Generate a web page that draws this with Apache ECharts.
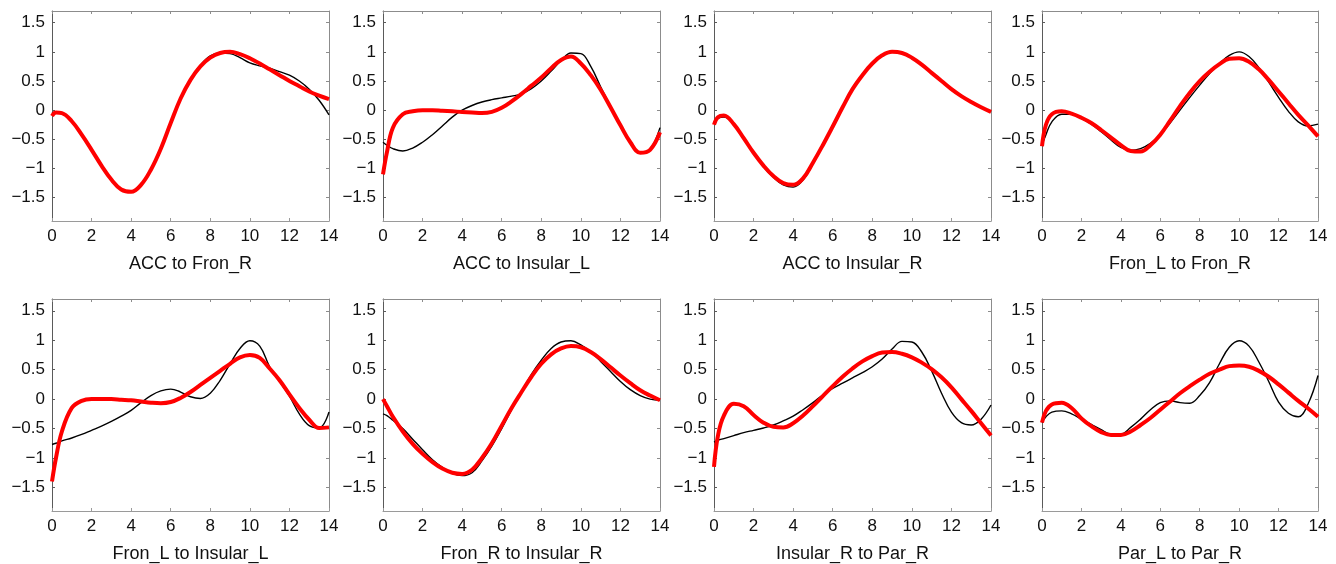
<!DOCTYPE html>
<html>
<head>
<meta charset="utf-8">
<style>
  html, body { margin: 0; padding: 0; background: #fff; }
  #chart { width: 1336px; height: 564px; }
</style>
<script src="https://cdn.jsdelivr.net/npm/echarts@6/dist/echarts.min.js"></script>
</head>
<body>
<div id="chart"></div>
<script>
// Time grid shared by all panels
const X = [0, 0.2, 0.5, 1, 1.5, 2, 2.5, 3, 3.5, 4, 4.5, 5, 5.5, 6, 6.5, 7, 7.5, 8, 8.5, 9, 9.5, 10, 10.5, 11, 11.5, 12, 12.5, 13, 13.5, 14];

const xTicks = [0, 2, 4, 6, 8, 10, 12, 14];
const yTicks = [-1.5, -1, -0.5, 0, 0.5, 1, 1.5];

// Observed (black) and fitted (red) curves, one pair per connection
const accFronR_obs = [-0.05, -0.03, -0.05, -0.19, -0.42, -0.68, -0.95, -1.19, -1.36, -1.40, -1.28, -1.02, -0.66, -0.22, 0.20, 0.53, 0.77, 0.93, 0.98, 0.97, 0.90, 0.81, 0.76, 0.72, 0.66, 0.60, 0.50, 0.36, 0.17, -0.08];
const accFronR_fit = [-0.10, -0.04, -0.05, -0.19, -0.42, -0.68, -0.95, -1.19, -1.36, -1.40, -1.28, -1.02, -0.66, -0.22, 0.20, 0.52, 0.75, 0.90, 0.98, 1.00, 0.96, 0.89, 0.80, 0.70, 0.60, 0.50, 0.41, 0.32, 0.25, 0.19];

const accInsL_obs = [-0.55, -0.60, -0.66, -0.70, -0.65, -0.55, -0.42, -0.27, -0.12, 0.00, 0.08, 0.14, 0.18, 0.21, 0.24, 0.28, 0.37, 0.50, 0.67, 0.85, 0.98, 0.97, 0.75, 0.40, 0.06, -0.25, -0.55, -0.73, -0.67, -0.30];
const accInsL_fit = [-1.10, -0.72, -0.30, -0.07, -0.02, 0.00, 0.00, -0.01, -0.02, -0.03, -0.04, -0.05, -0.03, 0.04, 0.15, 0.28, 0.42, 0.56, 0.72, 0.86, 0.92, 0.80, 0.60, 0.35, 0.05, -0.26, -0.55, -0.73, -0.68, -0.38];

const accInsR_obs = [-0.20, -0.14, -0.12, -0.24, -0.48, -0.74, -0.97, -1.15, -1.28, -1.32, -1.20, -0.92, -0.60, -0.28, 0.05, 0.36, 0.60, 0.80, 0.94, 1.00, 0.98, 0.90, 0.78, 0.64, 0.50, 0.36, 0.24, 0.14, 0.05, -0.03];
const accInsR_fit = [-0.25, -0.12, -0.09, -0.24, -0.48, -0.73, -0.95, -1.13, -1.25, -1.28, -1.17, -0.90, -0.60, -0.28, 0.05, 0.36, 0.60, 0.80, 0.94, 1.00, 0.98, 0.90, 0.78, 0.64, 0.50, 0.36, 0.24, 0.14, 0.05, -0.03];

const fronLFronR_obs = [-0.60, -0.42, -0.20, -0.07, -0.07, -0.14, -0.24, -0.37, -0.51, -0.64, -0.69, -0.66, -0.57, -0.42, -0.22, 0.00, 0.22, 0.43, 0.63, 0.80, 0.94, 1.00, 0.92, 0.73, 0.48, 0.22, -0.02, -0.20, -0.27, -0.24];
const fronLFronR_fit = [-0.62, -0.25, -0.07, -0.02, -0.06, -0.13, -0.22, -0.34, -0.47, -0.60, -0.70, -0.71, -0.60, -0.42, -0.18, 0.07, 0.30, 0.50, 0.66, 0.79, 0.88, 0.89, 0.83, 0.70, 0.52, 0.32, 0.12, -0.08, -0.26, -0.45];

const fronLInsL_obs = [-0.77, -0.75, -0.71, -0.66, -0.60, -0.53, -0.46, -0.38, -0.29, -0.19, -0.06, 0.06, 0.14, 0.17, 0.12, 0.04, 0.01, 0.10, 0.32, 0.60, 0.86, 0.99, 0.90, 0.55, 0.30, 0.05, -0.25, -0.45, -0.49, -0.22];
const fronLInsL_fit = [-1.40, -1.00, -0.55, -0.15, -0.03, 0.00, 0.00, 0.00, -0.01, -0.02, -0.04, -0.06, -0.07, -0.05, 0.02, 0.12, 0.24, 0.36, 0.48, 0.60, 0.71, 0.75, 0.70, 0.52, 0.32, 0.08, -0.15, -0.35, -0.49, -0.48];

const fronRInsR_obs = [-0.25, -0.28, -0.36, -0.50, -0.68, -0.86, -1.03, -1.16, -1.26, -1.30, -1.25, -1.05, -0.80, -0.50, -0.18, 0.12, 0.42, 0.66, 0.86, 0.97, 0.99, 0.92, 0.80, 0.64, 0.47, 0.30, 0.16, 0.06, 0.00, -0.02];
const fronRInsR_fit = [0.00, -0.12, -0.30, -0.55, -0.76, -0.93, -1.07, -1.18, -1.25, -1.27, -1.20, -1.00, -0.75, -0.45, -0.15, 0.12, 0.38, 0.60, 0.76, 0.86, 0.90, 0.88, 0.80, 0.68, 0.54, 0.40, 0.27, 0.15, 0.06, -0.02];

const insRParR_obs = [-0.73, -0.70, -0.67, -0.62, -0.57, -0.53, -0.49, -0.44, -0.37, -0.29, -0.18, -0.06, 0.07, 0.18, 0.27, 0.36, 0.45, 0.55, 0.68, 0.85, 0.98, 0.97, 0.80, 0.48, 0.10, -0.22, -0.40, -0.44, -0.34, -0.10];
const insRParR_fit = [-1.15, -0.62, -0.28, -0.08, -0.12, -0.27, -0.40, -0.47, -0.48, -0.41, -0.28, -0.12, 0.05, 0.22, 0.38, 0.52, 0.64, 0.73, 0.79, 0.80, 0.77, 0.71, 0.62, 0.51, 0.37, 0.20, 0.00, -0.20, -0.41, -0.62];

const parLParR_obs = [-0.40, -0.30, -0.22, -0.20, -0.25, -0.34, -0.43, -0.52, -0.59, -0.59, -0.48, -0.34, -0.18, -0.06, -0.03, -0.06, -0.07, 0.06, 0.28, 0.60, 0.88, 0.99, 0.90, 0.63, 0.30, -0.05, -0.24, -0.30, -0.08, 0.40];
const parLParR_fit = [-0.40, -0.20, -0.09, -0.06, -0.15, -0.33, -0.46, -0.56, -0.61, -0.61, -0.55, -0.44, -0.32, -0.18, -0.04, 0.10, 0.22, 0.33, 0.43, 0.50, 0.56, 0.57, 0.55, 0.48, 0.38, 0.25, 0.11, -0.03, -0.16, -0.30];

const panels = [
  { title: 'ACC to Fron_R', obs: accFronR_obs, fit: accFronR_fit },
  { title: 'ACC to Insular_L', obs: accInsL_obs, fit: accInsL_fit },
  { title: 'ACC to Insular_R', obs: accInsR_obs, fit: accInsR_fit },
  { title: 'Fron_L to Fron_R', obs: fronLFronR_obs, fit: fronLFronR_fit },
  { title: 'Fron_L to Insular_L', obs: fronLInsL_obs, fit: fronLInsL_fit },
  { title: 'Fron_R to Insular_R', obs: fronRInsR_obs, fit: fronRInsR_fit },
  { title: 'Insular_R to Par_R', obs: insRParR_obs, fit: insRParR_fit },
  { title: 'Par_L to Par_R', obs: parLParR_obs, fit: parLParR_fit }
];

// Panel frame layout
const colLeft = [52, 383, 714, 1042];
const colWidth = [277, 277, 277, 276];
const rowTop = [11, 299];
const rowHeight = [210, 212];

const FONT = 'Liberation Sans, Arial, Helvetica, sans-serif';
const minus = v => String(v).replace('-', '\u2212');

const grid = [], xAxis = [], yAxis = [], series = [];

panels.forEach((p, i) => {
  const c = i % 4, r = Math.floor(i / 4);
  grid.push({ left: colLeft[c], top: rowTop[r], width: colWidth[c], height: rowHeight[r] });

  const tickStyle = color => ({ show: true, inside: true, length: 3, lineStyle: { color: color, width: 1 } });

  // bottom axis with labels and panel title
  xAxis.push({
    gridIndex: i, type: 'value', min: 0, max: 14, interval: 2, position: 'bottom',
    name: p.title, nameLocation: 'middle', nameGap: 34,
    nameTextStyle: { fontFamily: FONT, fontSize: 18, color: '#111' },
    axisLine: { show: true, onZero: false, lineStyle: { color: '#9a9a9a', width: 1 } },
    axisTick: tickStyle('#9a9a9a'),
    axisLabel: { fontFamily: FONT, fontSize: 17, color: '#111', margin: 7,
                 customValues: xTicks, formatter: minus },
    splitLine: { show: false }
  });
  // top frame edge
  xAxis.push({
    gridIndex: i, type: 'value', min: 0, max: 14, interval: 2, position: 'top',
    axisLine: { show: true, onZero: false, lineStyle: { color: '#8c8c8c', width: 1 } },
    axisTick: tickStyle('#8c8c8c'),
    axisLabel: { show: false }, splitLine: { show: false }
  });
  // left axis with labels
  yAxis.push({
    gridIndex: i, type: 'value', min: -1.9, max: 1.7, position: 'left',
    axisLine: { show: true, onZero: false, lineStyle: { color: '#5a5a5a', width: 1 } },
    axisTick: Object.assign(tickStyle('#5a5a5a'), { customValues: yTicks }),
    axisLabel: { fontFamily: FONT, fontSize: 17, color: '#111', margin: 7,
                 customValues: yTicks, formatter: minus },
    splitLine: { show: false }
  });
  // right frame edge
  yAxis.push({
    gridIndex: i, type: 'value', min: -1.9, max: 1.7, position: 'right',
    axisLine: { show: true, onZero: false, lineStyle: { color: '#8c8c8c', width: 1 } },
    axisTick: Object.assign(tickStyle('#8c8c8c'), { customValues: yTicks }),
    axisLabel: { show: false }, splitLine: { show: false }
  });

  const xi = i * 2, yi = i * 2;
  series.push({
    type: 'line', xAxisIndex: xi, yAxisIndex: yi, smooth: 0.4,
    symbol: 'none', silent: true, z: 2,
    lineStyle: { color: '#000', width: 1.4 },
    data: X.map((x, k) => [x, p.obs[k]])
  });
  series.push({
    type: 'line', xAxisIndex: xi, yAxisIndex: yi, smooth: 0.4,
    symbol: 'none', silent: true, z: 3,
    lineStyle: { color: '#ff0000', width: 4 },
    data: X.map((x, k) => [x, p.fit[k]])
  });
});

const chart = echarts.init(document.getElementById('chart'), null, { renderer: 'canvas' });
chart.setOption({
  animation: false,
  backgroundColor: '#ffffff',
  grid, xAxis, yAxis, series
});
</script>
</body>
</html>
